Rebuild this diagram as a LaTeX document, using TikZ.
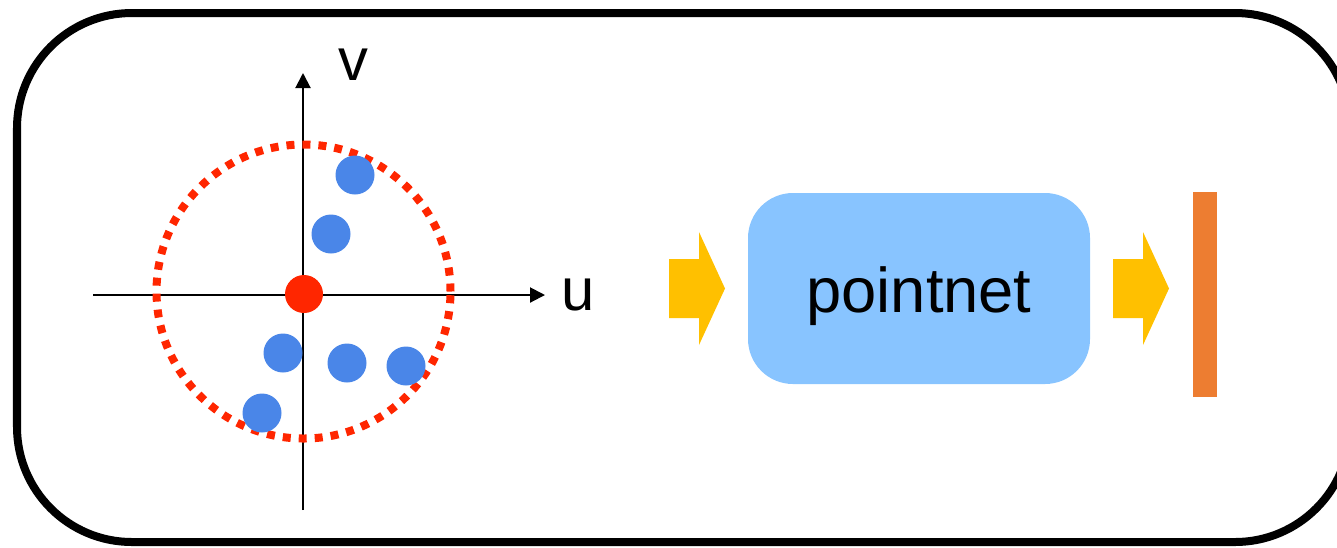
\documentclass[tikz,border=0pt]{standalone}
\usepackage{fontspec}
\setmainfont{Liberation Sans}
\usetikzlibrary{positioning,arrows.meta}

\definecolor{ptred}{HTML}{FF2600}
\definecolor{ptblue}{HTML}{4A86E8}
\definecolor{boxblue}{HTML}{88C4FF}
\definecolor{arrowyellow}{HTML}{FFC000}
\definecolor{featorange}{HTML}{ED7D31}

\tikzset{
    axis/.style={line width=0.02cm, -{Triangle[length=0.15cm,width=0.15cm]}},
    axislabel/.style={font=\fontsize{17}{17}\selectfont, anchor=base, inner sep=0pt},
    blockarrow/.pic={
        \fill[arrowyellow] (0,0.295) -- (0.30,0.295) -- (0.30,0.565) -- (0.56,0)
            -- (0.30,-0.565) -- (0.30,-0.295) -- (0,-0.295) -- cycle;
    }
}

\begin{document}
\begin{tikzpicture}
        \useasboundingbox (0,0) rectangle (13.37,5.47);
        % frame
        \draw[line width=0.08cm, rounded corners=1.15cm] (0.17,0.05) rectangle (13.50,5.34);

        % local uv plane
        \coordinate (o) at (3.03,2.52);
        \coordinate (uleft) at (0.93,2.52);
        \coordinate (uend) at (5.45,2.52);
        \coordinate (vbot) at (3.03,0.37);
        \coordinate (vend) at (3.03,4.74);
        \draw[axis] (uleft) -- (uend);
        \draw[axis] (vbot) -- (vend);
        \node[axislabel] (ulabel) at (5.78,2.37) {u};
        \node[axislabel] (vlabel) at (3.53,4.67) {v};

        \draw[ptred, line width=0.08cm, dash pattern=on 0.08cm off 0.08cm] (3.035,2.555) circle (1.47);
        \foreach \x/\y in {3.55/3.72, 3.31/3.13, 2.83/1.94, 3.47/1.84, 4.06/1.81, 2.62/1.34} {
            \fill[ptblue] (\x,\y) circle (0.195);
        }
        \fill[ptred] (3.04,2.53) circle (0.19);

        % encoder
        \node[fill=boxblue, rounded corners=0.45cm, minimum width=3.42cm, minimum height=1.91cm,
              text height=0.65cm, text depth=0.18cm,
              font=\fontsize{18}{18}\selectfont] (pointnet) at (9.19,2.585) {pointnet};
        \pic at (6.69,2.585) {blockarrow};
        \pic at (11.13,2.585) {blockarrow};
        \node[fill=featorange, inner sep=0pt, minimum width=0.24cm, minimum height=2.05cm] (feat) at (12.05,2.525) {};
    \end{tikzpicture}
\end{document}
